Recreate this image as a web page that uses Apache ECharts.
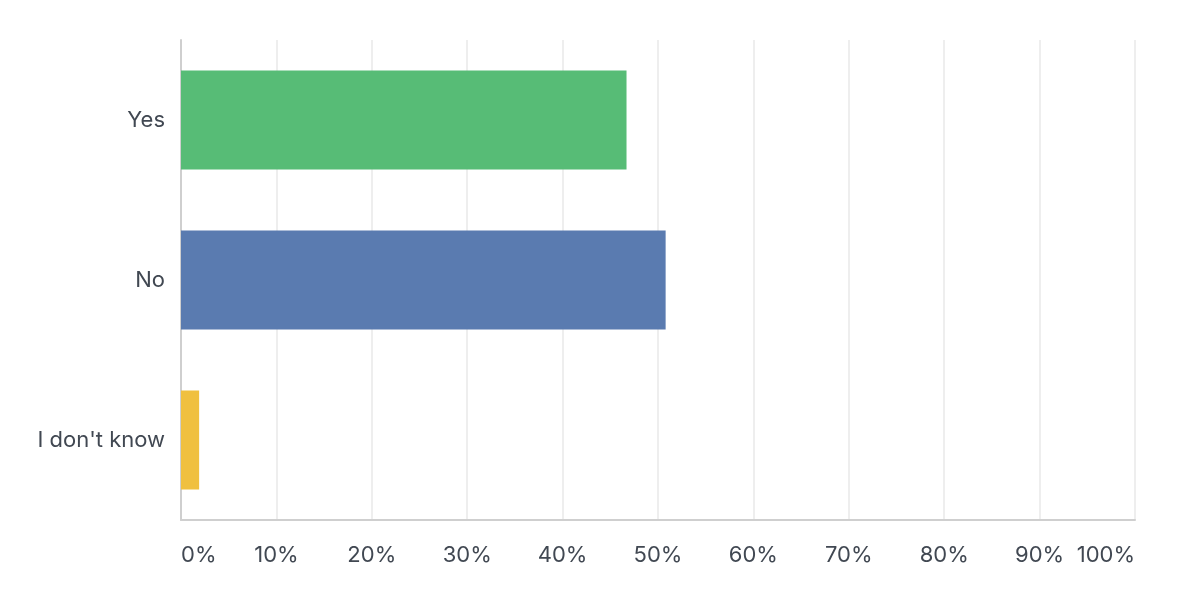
<!DOCTYPE html>
<html>
<head>
<meta charset="utf-8">
<script src="https://cdn.jsdelivr.net/npm/echarts@6/dist/echarts.min.js"></script>
<style>html,body{margin:0;padding:0;background:#fff;}#c{width:1200px;height:591px;}</style>
</head>
<body>
<div id="c"></div>
<script>
const categories = ["Yes", "No", "I don't know"];
const values = [46.7, 50.8, 1.9];
const barColors = ["#57bc76", "#5a7bb0", "#f0c03f"];
const xTicks = [0, 10, 20, 30, 40, 50, 60, 70, 80, 90, 100];

const chart = echarts.init(document.getElementById('c'), null, {renderer: 'canvas'});
const textColor = '#414852';
const font = 'Inter';
chart.setOption({
  animation: false,
  grid: {left: 181, right: 65, top: 40, bottom: 71, containLabel: false},
  xAxis: {
    type: 'value', min: 0, max: 100, interval: 10,
    axisLine: {show: true, lineStyle: {color: '#cfcfcf', width: 2}},
    axisTick: {show: false},
    splitLine: {show: true, lineStyle: {color: '#e8e8e8', width: 1.5}},
    axisLabel: {
      formatter: v => v + '%', color: textColor, fontSize: 22,
      fontFamily: font, margin: 24,
      alignMinLabel: 'left', alignMaxLabel: 'right'
    }
  },
  yAxis: {
    type: 'category', data: categories, inverse: true,
    axisLine: {show: true, lineStyle: {color: '#cfcfcf', width: 2}},
    axisTick: {show: false},
    axisLabel: {color: textColor, fontSize: 22, fontFamily: font, margin: 16}
  },
  series: [{
    type: 'bar', barWidth: 99,
    data: values.map((v, i) => ({value: v, itemStyle: {color: barColors[i]}}))
  }]
});
</script>
</body>
</html>
